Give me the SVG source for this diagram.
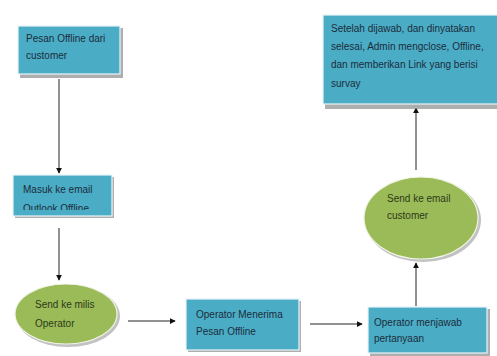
<svg xmlns="http://www.w3.org/2000/svg" width="497" height="356" viewBox="0 0 497 356">
<defs>
<style>
.box{fill:#4BACC6;stroke:#e8f4f8;stroke-width:1.2}
.ell{fill:#9BBB59;stroke:#f0f5e6;stroke-width:1.2}
.sh{fill:#9a9a9a;opacity:0.8}
.t{font-family:"Liberation Sans",Arial,sans-serif;font-size:10px;fill:#1b2d3a}
.tg{font-family:"Liberation Sans",Arial,sans-serif;font-size:10px;fill:#2c3a18}
.c{stroke:#222;stroke-width:1;fill:none;marker-end:url(#ah)}
</style>
<marker id="ah" viewBox="0 0 8 8" refX="7" refY="4" markerWidth="6" markerHeight="6" orient="auto" markerUnits="userSpaceOnUse">
<path d="M0,0 L8,4 L0,8 z" fill="#111"/>
</marker>
<clipPath id="clip2"><rect x="13" y="175" width="99" height="35"/></clipPath>
</defs>
<rect width="497" height="356" fill="#ffffff"/>
<g id="connectors">
<line class="c" x1="59" y1="79" x2="59" y2="173"/>
<line class="c" x1="59" y1="228" x2="59" y2="280"/>
<line class="c" x1="128" y1="321" x2="175" y2="321"/>
<line class="c" x1="310" y1="324" x2="362" y2="324"/>
<line class="c" x1="416" y1="306" x2="416" y2="263"/>
<line class="c" x1="416" y1="170" x2="416" y2="108"/>
</g>
<g id="n1">
<rect class="sh" x="20" y="28" width="103" height="50"/>
<rect class="box" x="18" y="26" width="102" height="48"/>
<text class="t" x="26" y="42">Pesan Offline dari</text>
<text class="t" x="26" y="59">customer</text>
</g>
<g id="n2">
<rect class="sh" x="15" y="177" width="99" height="41"/>
<rect class="box" x="13" y="175" width="99" height="41"/>
<g clip-path="url(#clip2)">
<text class="t" x="23" y="193">Masuk ke email</text>
<text class="t" x="23" y="212">Outlook Offline</text>
</g>
</g>
<g id="n3">
<ellipse cx="68" cy="316" rx="52" ry="31" fill="#9a9a9a" opacity="0.6"/>
<ellipse class="ell" cx="66" cy="314" rx="51" ry="30"/>
<text class="tg" x="35" y="308">Send ke milis</text>
<text class="tg" x="35" y="327">Operator</text>
</g>
<g id="n4">
<rect class="sh" x="188" y="301" width="113" height="51"/>
<rect class="box" x="186" y="299" width="113" height="51"/>
<text class="t" x="196" y="318">Operator Menerima</text>
<text class="t" x="196" y="335">Pesan Offline</text>
</g>
<g id="n5">
<rect class="sh" x="370" y="309" width="120" height="47"/>
<rect class="box" x="368" y="307" width="119" height="46"/>
<text class="t" x="374" y="326">Operator menjawab</text>
<text class="t" x="374" y="342">pertanyaan</text>
</g>
<g id="n6">
<ellipse cx="423" cy="220" rx="58" ry="42" fill="#9a9a9a" opacity="0.6"/>
<ellipse class="ell" cx="421" cy="218" rx="57" ry="41"/>
<text class="tg" x="387" y="202">Send ke email</text>
<text class="tg" x="387" y="219">customer</text>
</g>
<g id="n7">
<rect class="sh" x="325" y="18" width="180" height="91"/>
<rect class="box" x="323" y="15" width="180" height="89"/>
<text class="t" x="331" y="32">Setelah dijawab, dan dinyatakan</text>
<text class="t" x="331" y="50">selesai, Admin mengclose, Offline,</text>
<text class="t" x="331" y="68">dan memberikan Link yang berisi</text>
<text class="t" x="331" y="87">survay</text>
</g>
</svg>
